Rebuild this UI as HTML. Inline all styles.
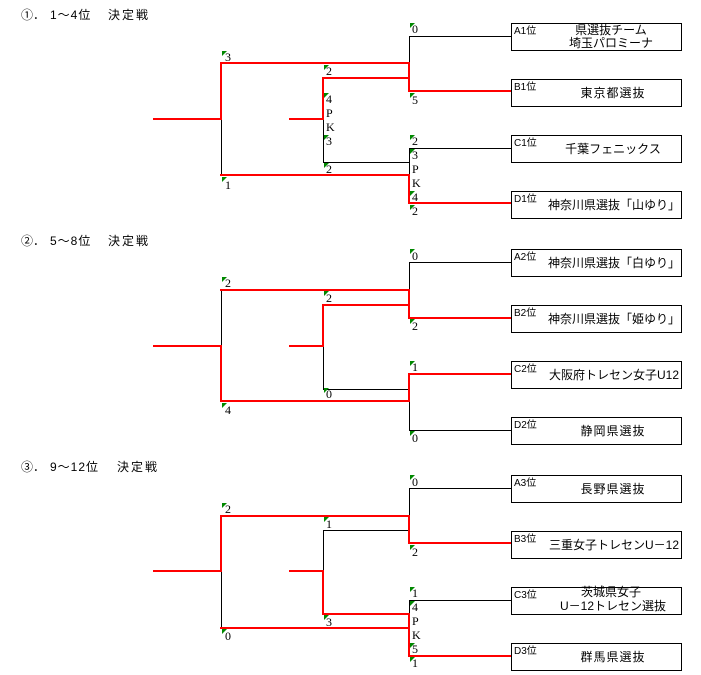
<!DOCTYPE html>
<html><head><meta charset="utf-8"><style>
html,body{margin:0;padding:0;background:#fff;}
svg{display:block;}
.h{font:12px "Liberation Sans","Noto Sans CJK JP",sans-serif;fill:#000;}
.n{font:12px "Liberation Serif","Noto Sans CJK JP",serif;fill:#000;}
.b{font:10px "Liberation Sans","Noto Sans CJK JP",sans-serif;fill:#000;}
.t{font:12px "Liberation Sans","Noto Sans CJK JP",sans-serif;fill:#000;text-anchor:middle;}
.k line{stroke:#000;stroke-width:1;}
.r line{stroke:#f00;stroke-width:2;}
rect{fill:#fff;stroke:#000;stroke-width:1;}
.g{fill:#080;}
</style></head><body>
<svg width="701" height="675" viewBox="0 0 701 675" xmlns="http://www.w3.org/2000/svg">
<g class="h">
<text x="21" y="19">①．</text><text x="50" y="19" letter-spacing="1">1～4位</text><text x="108" y="19" letter-spacing="2">決定戦</text>
<text x="21" y="245">②．</text><text x="50" y="245" letter-spacing="1">5～8位</text><text x="108" y="245" letter-spacing="2">決定戦</text>
<text x="21" y="471">③．</text><text x="50" y="471" letter-spacing="1">9～12位</text><text x="117" y="471" letter-spacing="2">決定戦</text>
</g>

<g class="k">
<line x1="221.5" y1="119" x2="221.5" y2="175"/><line x1="323.5" y1="119" x2="323.5" y2="162"/><line x1="323" y1="162.5" x2="409" y2="162.5"/><line x1="409.5" y1="36" x2="409.5" y2="63"/><line x1="409" y1="36.5" x2="511" y2="36.5"/><line x1="409.5" y1="148" x2="409.5" y2="175"/><line x1="409" y1="148.5" x2="511" y2="148.5"/>
<line x1="221.5" y1="290" x2="221.5" y2="346"/><line x1="323.5" y1="346" x2="323.5" y2="389"/><line x1="323" y1="389.5" x2="409" y2="389.5"/><line x1="409.5" y1="262" x2="409.5" y2="290"/><line x1="409" y1="262.5" x2="511" y2="262.5"/><line x1="409.5" y1="401" x2="409.5" y2="430"/><line x1="409" y1="430.5" x2="511" y2="430.5"/>
<line x1="221.5" y1="571" x2="221.5" y2="628"/><line x1="323.5" y1="530" x2="323.5" y2="571"/><line x1="323" y1="530.5" x2="409" y2="530.5"/><line x1="409.5" y1="488" x2="409.5" y2="516"/><line x1="409" y1="488.5" x2="511" y2="488.5"/><line x1="409.5" y1="600" x2="409.5" y2="614"/><line x1="409" y1="600.5" x2="511" y2="600.5"/>
</g>
<g class="r">
<line x1="153" y1="119" x2="222" y2="119"/><line x1="221" y1="63" x2="221" y2="119"/><line x1="220" y1="63" x2="410" y2="63"/><line x1="220" y1="175" x2="410" y2="175"/><line x1="289" y1="119" x2="324" y2="119"/><line x1="323" y1="78" x2="323" y2="119"/><line x1="322" y1="78" x2="410" y2="78"/><line x1="409" y1="62" x2="409" y2="91"/><line x1="408" y1="91" x2="511" y2="91"/><line x1="409" y1="174" x2="409" y2="203"/><line x1="408" y1="203" x2="511" y2="203"/>
<line x1="153" y1="346" x2="222" y2="346"/><line x1="221" y1="346" x2="221" y2="401"/><line x1="220" y1="290" x2="410" y2="290"/><line x1="220" y1="401" x2="410" y2="401"/><line x1="289" y1="346" x2="324" y2="346"/><line x1="323" y1="305" x2="323" y2="346"/><line x1="322" y1="305" x2="410" y2="305"/><line x1="409" y1="289" x2="409" y2="318"/><line x1="408" y1="318" x2="511" y2="318"/><line x1="409" y1="374" x2="409" y2="402"/><line x1="408" y1="374" x2="511" y2="374"/>
<line x1="153" y1="571" x2="222" y2="571"/><line x1="221" y1="516" x2="221" y2="571"/><line x1="220" y1="516" x2="410" y2="516"/><line x1="220" y1="628" x2="410" y2="628"/><line x1="289" y1="571" x2="324" y2="571"/><line x1="323" y1="571" x2="323" y2="614"/><line x1="322" y1="614" x2="410" y2="614"/><line x1="409" y1="515" x2="409" y2="543"/><line x1="408" y1="543" x2="511" y2="543"/><line x1="409" y1="613" x2="409" y2="656"/><line x1="408" y1="656" x2="511" y2="656"/>
</g>

<g class="g">
<polygon points="222,51 227,51 222,56"/><polygon points="222,177 227,177 222,182"/><polygon points="324,65 329,65 324,70"/><polygon points="324,93 329,93 324,98"/><polygon points="324,135 329,135 324,140"/><polygon points="324,163 329,163 324,168"/><polygon points="410,23 415,23 410,28"/><polygon points="410,93 415,93 410,98"/><polygon points="410,135 415,135 410,140"/><polygon points="410,149 415,149 410,154"/><polygon points="410,191 415,191 410,196"/><polygon points="410,205 415,205 410,210"/>
<polygon points="222,277 227,277 222,282"/><polygon points="222,403 227,403 222,408"/><polygon points="324,291 329,291 324,296"/><polygon points="324,388 329,388 324,393"/><polygon points="410,249 415,249 410,254"/><polygon points="410,319 415,319 410,324"/><polygon points="410,361 415,361 410,366"/><polygon points="410,431 415,431 410,436"/>
<polygon points="222,503 227,503 222,508"/><polygon points="222,629 227,629 222,634"/><polygon points="324,517 329,517 324,522"/><polygon points="324,615 329,615 324,620"/><polygon points="410,475 415,475 410,480"/><polygon points="410,545 415,545 410,550"/><polygon points="410,587 415,587 410,592"/><polygon points="410,601 415,601 410,606"/><polygon points="410,643 415,643 410,648"/><polygon points="410,657 415,657 410,662"/>
</g>
<g class="n">
<text x="225" y="61">3</text><text x="225" y="189">1</text><text x="326" y="75">2</text>
<text x="326" y="103">4</text><text x="326" y="117">P</text><text x="326" y="131">K</text><text x="326" y="145">3</text><text x="326" y="173">2</text>
<text x="412" y="33">0</text><text x="412" y="104">5</text><text x="412" y="145">2</text><text x="412" y="159">3</text><text x="412" y="173">P</text><text x="412" y="187">K</text><text x="412" y="201">4</text><text x="412" y="215">2</text>
<text x="225" y="287">2</text><text x="225" y="414">4</text><text x="326" y="302">2</text><text x="326" y="398">0</text>
<text x="412" y="260">0</text><text x="412" y="330">2</text><text x="412" y="371">1</text><text x="412" y="442">0</text>
<text x="225" y="513">2</text><text x="225" y="640">0</text><text x="326" y="528">1</text><text x="326" y="626">3</text>
<text x="412" y="486">0</text><text x="412" y="556">2</text><text x="412" y="597">1</text><text x="412" y="611">4</text><text x="412" y="625">P</text><text x="412" y="639">K</text><text x="412" y="653">5</text><text x="412" y="667">1</text>
</g>

<rect x="511.5" y="23.5" width="170" height="27"/><rect x="511.5" y="79.5" width="170" height="27"/><rect x="511.5" y="135.5" width="170" height="27"/><rect x="511.5" y="191.5" width="170" height="27"/>
<rect x="511.5" y="249.5" width="170" height="27"/><rect x="511.5" y="305.5" width="170" height="27"/><rect x="511.5" y="361.5" width="170" height="27"/><rect x="511.5" y="417.5" width="170" height="27"/>
<rect x="511.5" y="475.5" width="170" height="27"/><rect x="511.5" y="531.5" width="170" height="27"/><rect x="511.5" y="587.5" width="170" height="27"/><rect x="511.5" y="643.5" width="170" height="27"/>
<g class="b">
<text x="514" y="34">A1位</text><text x="514" y="90">B1位</text><text x="514" y="146">C1位</text><text x="514" y="202">D1位</text>
<text x="514" y="260">A2位</text><text x="514" y="316">B2位</text><text x="514" y="372">C2位</text><text x="514" y="428">D2位</text>
<text x="514" y="486">A3位</text><text x="514" y="542">B3位</text><text x="514" y="598">C3位</text><text x="514" y="654">D3位</text>
</g>
<g class="t">
<text x="611" y="34">県選抜チーム</text><text x="611" y="47">埼玉パロミーナ</text>
<text x="613" y="97" letter-spacing="1">東京都選抜</text><text x="613" y="153">千葉フェニックス</text><text x="614" y="209">神奈川県選抜「山ゆり」</text>
<text x="614" y="267">神奈川県選抜「白ゆり」</text><text x="614" y="323">神奈川県選抜「姫ゆり」</text><text x="614" y="379">大阪府トレセン女子U12</text><text x="613" y="435" letter-spacing="1">静岡県選抜</text>
<text x="613" y="493" letter-spacing="1">長野県選抜</text><text x="614" y="549">三重女子トレセンU－12</text>
<text x="611" y="596">茨城県女子</text><text x="613" y="610">U－12トレセン選抜</text><text x="613" y="661" letter-spacing="1">群馬県選抜</text>
</g>
</svg>
</body></html>
